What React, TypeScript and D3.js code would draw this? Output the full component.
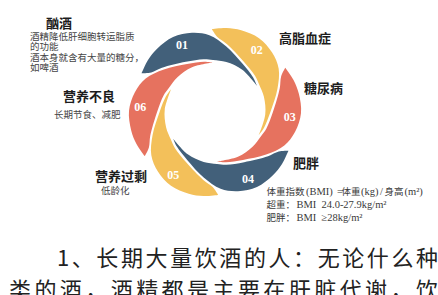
import { curveCatmullRom, lineRadial } from "d3";

const width = 438;
const height = 295;
const cx = 215;
const cy = 112;
const firstTip = 207.8; // screen angle (deg) of the outer tip of blade 01

// categories, clockwise from the top left
const numbers = ["01", "02", "03", "04", "05", "06"];
const titles = ["酗酒", "高脂血症", "糖尿病", "肥胖", "营养过剩", "营养不良"];
const notes = [
  ["酒精降低肝细胞转运脂质", "的功能", "酒本身就含有大量的糖分，", "如啤酒"],
  [],
  [],
  [],
  ["低龄化"],
  ["长期节食、减肥"],
];
const bmiLines = [
  [["体重指数", "cjk"], ["(BMI)", "lat"], ["=", "lat"], ["体重", "cjk"], ["(kg)", "lat"], ["/", "lat"], ["身高", "cjk"], ["(m²)", "lat"]],
  [["超重：", "cjk"], ["BMI", "lat"], ["24.0-27.9kg/m²", "lat"]],
  [["肥胖：", "cjk"], ["BMI", "lat"], ["≥28kg/m²", "lat"]],
];
const bodyLines = ["1、长期大量饮酒的人：无论什么种", "类的酒，酒精都是主要在肝脏代谢，饮"];

// blade outline: degrees along the blade -> radius
const outerPhi = [0, 10, 20, 33, 46, 58, 72, 92, 110, 120];
const outerR = [83, 84.8, 85.8, 86, 82.5, 77, 66.5, 55.5, 51.5, 49.5];
const innerPhi = [120, 95, 75, 60, 50, 32, 12, 4, 0];
const innerR = [49.5, 50.3, 51.2, 52, 54, 58, 69, 75, 83];

// layout
const colors = ["#42607a", "#f3c05a", "#e6725f"];
const titlePos = [
  [46, 28],
  [279, 43],
  [304, 93],
  [293, 168],
  [95, 181],
  [63, 101],
];
const notePos = [
  [30, 39.5],
  [0, 0],
  [0, 0],
  [0, 0],
  [101, 194],
  [54, 117.5],
];
const bmiX = [
  [266.5, 306, 337, 341.5, 361, 380, 384.5, 404.5],
  [266.5, 296.5, 321.5],
  [266.5, 296.5, 321.5],
];
const bmiY = [194.5, 207.5, 221];

const cjk = "'Noto Sans CJK SC', sans-serif";
const serif = "'Liberation Serif', 'DejaVu Serif', serif";

const rad = (deg: number) => (deg * Math.PI) / 180;

const radial = lineRadial<number[]>()
  .angle((d) => rad(d[0] + 90))
  .radius((d) => d[1])
  .curve(curveCatmullRom.alpha(0.5));

function bladePath(k: number) {
  const a = firstTip + 60 * k;
  const outer = outerPhi.map((p, i) => [a + p, outerR[i]]);
  const inner = innerPhi.map((p, i) => [a + p, innerR[i]]);
  return radial(outer)! + radial(inner)!.replace(/^M/, "L") + "Z";
}

function App() {
  return (
    <svg
      width={width}
      height={height}
      style={{ position: "absolute", left: 0, top: 0, background: "#fff" }}
    >
      <g transform={`translate(${cx},${cy})`}>
        {numbers.map((n, k) => (
          <path key={n} d={bladePath(k)} fill={colors[k % 3]} />
        ))}
        {numbers.map((n, k) => {
          const t = rad(firstTip + 60 * k + 36);
          return (
            <text
              key={n}
              x={75 * Math.cos(t)}
              y={75 * Math.sin(t)}
              dy="0.35em"
              textAnchor="middle"
              fill="#fff"
              fontFamily={serif}
              fontWeight="bold"
              fontSize={12}
            >
              {n}
            </text>
          );
        })}
      </g>

      {titles.map((t, k) => (
        <text
          key={t}
          x={titlePos[k][0]}
          y={titlePos[k][1]}
          fontFamily={cjk}
          fontWeight="bold"
          fontSize={13}
          fill="#1c1c1c"
        >
          {t}
        </text>
      ))}

      {notes.map((lines, k) =>
        lines.map((line, j) => (
          <text
            key={`${k}-${j}`}
            x={notePos[k][0]}
            y={notePos[k][1] + j * 10.6}
            fontFamily={cjk}
            fontSize={9.5}
            fill="#444"
          >
            {line}
          </text>
        ))
      )}

      {bmiLines.map((parts, i) => (
        <text key={i} y={bmiY[i]} fill="#3a3a3a">
          {parts.map(([s, kind], j) => (
            <tspan
              key={j}
              x={bmiX[i][j]}
              fontFamily={kind === "cjk" ? cjk : serif}
              fontSize={kind === "cjk" ? 9.5 : 10.5}
            >
              {s}
            </tspan>
          ))}
        </text>
      ))}

      {bodyLines.map((line, i) => (
        <text
          key={i}
          x={i === 0 ? 57 : 9}
          y={i === 0 ? 265.5 : 297.5}
          textLength={i === 0 ? 381 : 429}
          lengthAdjust="spacing"
          fontFamily={cjk}
          fontSize={22}
          fill="#222"
        >
          {line}
        </text>
      ))}
    </svg>
  );
}

export default App;
